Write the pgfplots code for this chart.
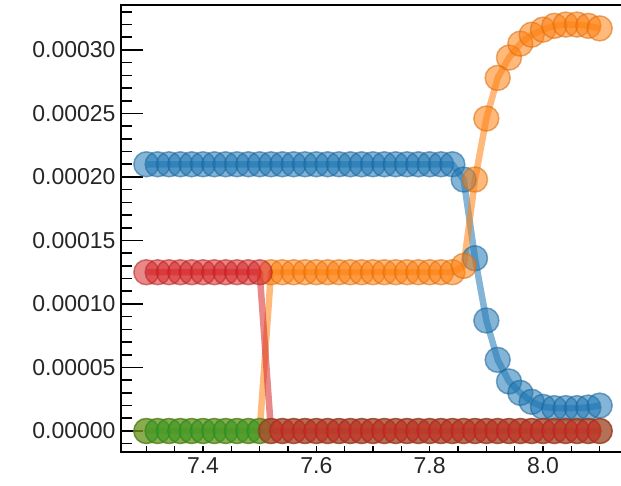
\documentclass[border=0pt]{standalone}
\usepackage{pgfplots}
\usepackage{pgfplotstable}
\pgfplotsset{compat=1.18}
\usepackage{fontspec}
\setmainfont{Liberation Sans}
\definecolor{c0}{HTML}{1F77B4}
\definecolor{c1}{HTML}{FF7F0E}
\definecolor{c2}{HTML}{2CA02C}
\definecolor{c3}{HTML}{D62728}
\pgfplotstableread{
x b o g r
7.30 0.000210 0 0 0.000125
7.32 0.000210 0 0 0.000125
7.34 0.000210 0 0 0.000125
7.36 0.000210 0 0 0.000125
7.38 0.000210 0 0 0.000125
7.40 0.000210 0 0 0.000125
7.42 0.000210 0 0 0.000125
7.44 0.000210 0 0 0.000125
7.46 0.000210 0 0 0.000125
7.48 0.000210 0 0 0.000125
7.50 0.000210 0 0 0.000125
7.52 0.000210 0.000125 0 0
7.54 0.000210 0.000125 0 0
7.56 0.000210 0.000125 0 0
7.58 0.000210 0.000125 0 0
7.60 0.000210 0.000125 0 0
7.62 0.000210 0.000125 0 0
7.64 0.000210 0.000125 0 0
7.66 0.000210 0.000125 0 0
7.68 0.000210 0.000125 0 0
7.70 0.000210 0.000125 0 0
7.72 0.000210 0.000125 0 0
7.74 0.000210 0.000125 0 0
7.76 0.000210 0.000125 0 0
7.78 0.000210 0.000125 0 0
7.80 0.000210 0.000125 0 0
7.82 0.000210 0.000125 0 0
7.84 0.000210 0.000125 0 0
7.86 0.000198 0.000130 0 0
7.88 0.000136 0.000198 0 0
7.90 0.000087 0.000246 0 0
7.92 0.000056 0.000278 0 0
7.94 0.000039 0.000294 0 0
7.96 0.000030 0.000305 0 0
7.98 0.000023 0.000312 0 0
8.00 0.000019 0.000316 0 0
8.02 0.000018 0.000319 0 0
8.04 0.000018 0.000320 0 0
8.06 0.000018 0.000320 0 0
8.08 0.0000185 0.000319 0 0
8.10 0.000020 0.000317 0 0
}\data
\pgfplotsset{
  ser/.style={color=#1, line width=6.5pt, line join=round, opacity=0.55,
    mark=*, mark size=12.5pt, mark options={line width=1.5pt, draw=#1!85!black, fill=#1}},
}
\begin{document}
\begin{tikzpicture}
\begin{axis}[
  scale only axis, width=512pt, height=447pt,
  at={(0,0)}, anchor=south west,
  xmin=7.2553, xmax=8.1588, ymin=-1.654e-5, ymax=33.54e-5,
  axis line style={line width=2pt},
  tick pos=left, tick align=inside,
  major tick length=22pt, minor tick length=11pt,
  every tick/.style={black, line width=1.6pt},
  xtick=\empty,
  extra x ticks={7.3,7.35,7.4,7.45,7.5,7.55,7.6,7.65,7.7,7.75,7.8,7.85,7.9,7.95,8.0,8.05,8.1,8.15},
  extra x tick labels={,,7.4,,,,7.6,,,,7.8,,,,8.0,,,},
  extra x tick style={major tick length=6pt, tick pos=left},
  ytick={0,5e-5,1e-4,1.5e-4,2e-4,2.5e-4,3e-4},
  minor ytick={-1e-5,1e-5,2e-5,3e-5,4e-5,6e-5,7e-5,8e-5,9e-5,11e-5,12e-5,13e-5,14e-5,16e-5,17e-5,18e-5,19e-5,21e-5,22e-5,23e-5,24e-5,26e-5,27e-5,28e-5,29e-5,31e-5,32e-5,33e-5},
  scaled y ticks=false,
  yticklabel style={/pgf/number format/.cd, fixed, fixed zerofill, precision=5, assume math mode=true},
  ticklabel style={font=\fontsize{23}{26}\selectfont, text=black!85},
  yticklabel shift=2pt,
  xticklabel shift=2pt,
]
\addplot[ser=c0] table[x=x, y=b] {\data};
\addplot[ser=c1] table[x=x, y=o] {\data};
\addplot[ser=c2] table[x=x, y=g] {\data};
\addplot[ser=c3] table[x=x, y=r] {\data};
\end{axis}
\pgfresetboundingbox
\path[use as bounding box] (-121pt,-33pt) rectangle (500pt,452pt);
\end{tikzpicture}
\end{document}
